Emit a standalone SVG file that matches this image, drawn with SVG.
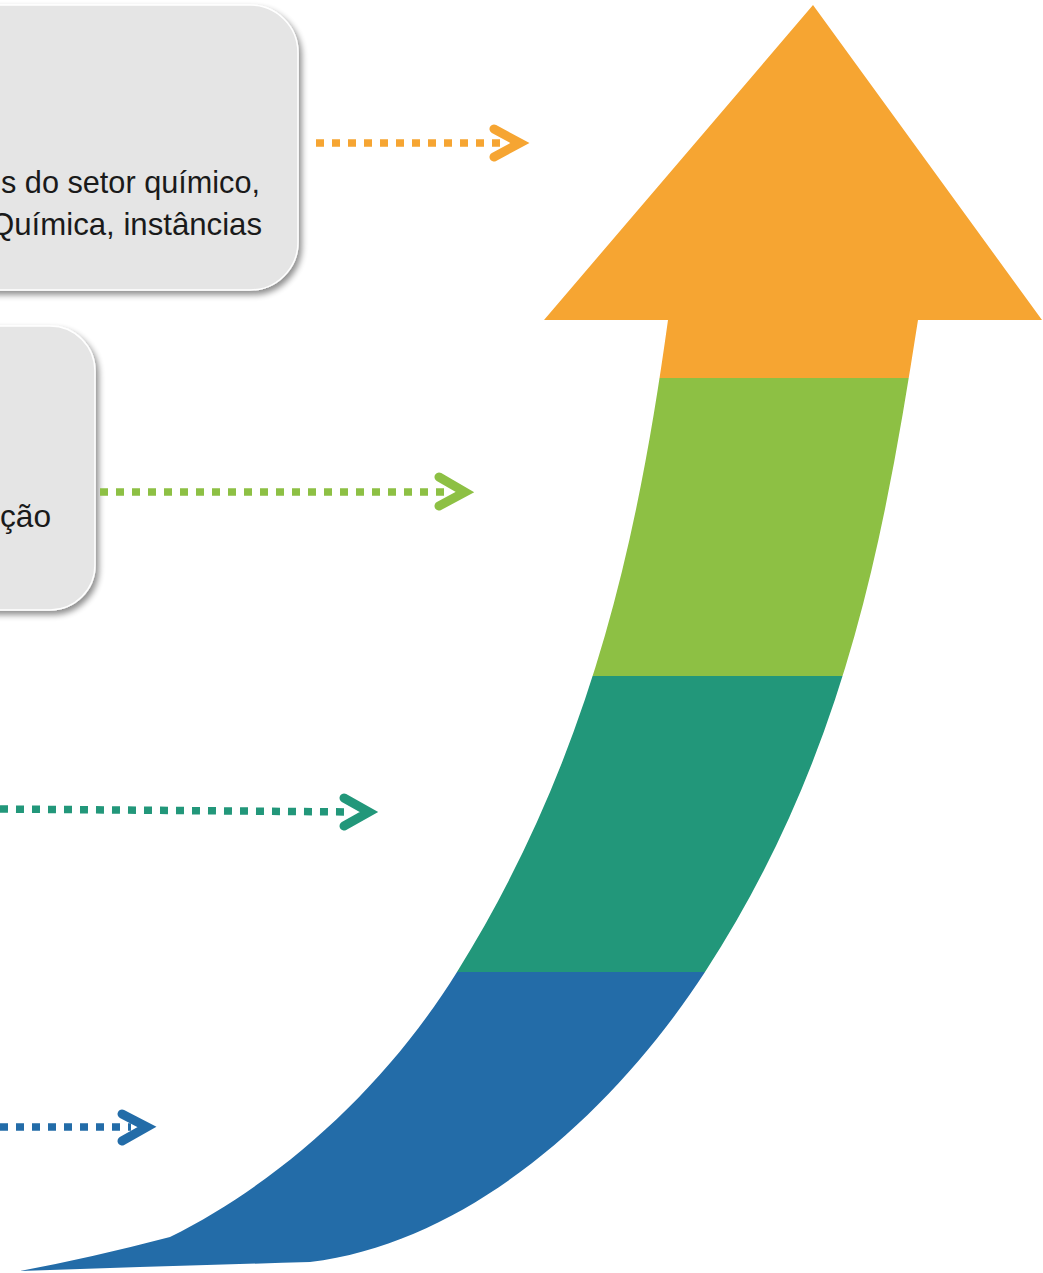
<svg xmlns="http://www.w3.org/2000/svg" width="1043" height="1273" viewBox="0 0 1043 1273">
<defs>
<style>
.box{fill:#e5e5e5;stroke:#ffffff;stroke-width:1.5;filter:url(#sh)}
.txt{font-family:"Liberation Sans",Arial,sans-serif;font-size:32px;fill:#1a1a1a}
.dot{fill:none;stroke-width:7.5;stroke-dasharray:8 8}
.chev{fill:none;stroke-width:9;stroke-linecap:round;stroke-linejoin:miter;stroke-miterlimit:10}
</style>
<filter id="sh" x="-20%" y="-20%" width="150%" height="150%">
<feGaussianBlur in="SourceAlpha" stdDeviation="3"/>
<feOffset dx="3" dy="4" result="o"/>
<feComponentTransfer><feFuncA type="linear" slope="0.45"/></feComponentTransfer>
<feMerge><feMergeNode/><feMergeNode in="SourceGraphic"/></feMerge>
</filter>
<clipPath id="arrowClip">
<path d="M668,320 L544,320 L813,5 L1042,320 L918,320 C884,537 846,755 705,972 C616,1109 472,1242 310,1262 Q170,1266 20,1271 Q90,1258 170,1237 C286,1179 388,1083 457,972 C592,755 638,537 668,320 Z"/>
</clipPath>
</defs>
<g id="arrow" clip-path="url(#arrowClip)">
<rect x="0" y="0" width="1043" height="378" fill="#f6a532"/>
<rect x="0" y="378" width="1043" height="298" fill="#8dc044"/>
<rect x="0" y="676" width="1043" height="296" fill="#22977a"/>
<rect x="0" y="972" width="1043" height="301" fill="#236ca8"/>
</g>
<g id="box1">
<rect class="box" x="-60" y="5" width="358" height="285" rx="48"/>
<text class="txt" x="260" y="193" text-anchor="end" textLength="259" lengthAdjust="spacingAndGlyphs">s do setor químico,</text>
<text class="txt" x="262" y="235" text-anchor="end" textLength="272" lengthAdjust="spacingAndGlyphs">Química, instâncias</text>
</g>
<g id="box2">
<rect class="box" x="-60" y="326" width="155" height="284" rx="45"/>
<text class="txt" x="51" y="527" text-anchor="end" textLength="51" lengthAdjust="spacingAndGlyphs">ção</text>
</g>
<g id="connectors">
<line class="dot" x1="316" y1="143" x2="500" y2="143" stroke="#f6a532"/>
<polyline class="chev" points="494,129 520,143 494,157" stroke="#f6a532"/>
<line class="dot" x1="100" y1="492" x2="446" y2="492" stroke="#8dc044"/>
<polyline class="chev" points="439,477 465,492 439,506" stroke="#8dc044"/>
<line class="dot" x1="0" y1="809" x2="351" y2="812" stroke="#22977a"/>
<polyline class="chev" points="344,798 369,812 344,826" stroke="#22977a"/>
<line class="dot" x1="0" y1="1127" x2="131" y2="1127" stroke="#236ca8"/>
<polyline class="chev" points="122,1114 147,1127 122,1141" stroke="#236ca8"/>
</g>
</svg>
